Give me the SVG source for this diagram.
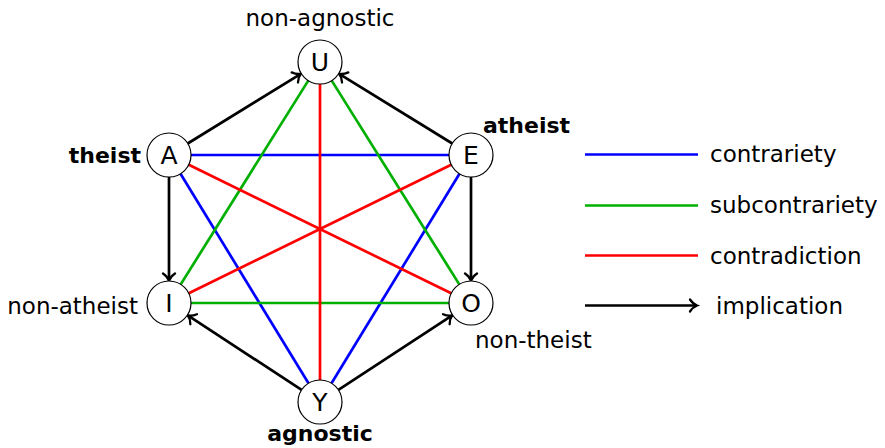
<svg xmlns="http://www.w3.org/2000/svg" width="885" height="448" viewBox="0 0 885 448">
<style>
text{font-family:"DejaVu Sans",sans-serif;font-size:23px;fill:#000}
.b{font-weight:bold;font-size:22px}
.n{text-anchor:middle}
.k{font-size:25px}
circle{fill:#fff;stroke:#000;stroke-width:1.2}
line{stroke-width:2.7;fill:none}
.blue{stroke:#0000ff}
.green{stroke:#00b000}
.red{stroke:#ff0000}
.imp{stroke:#000;marker-end:url(#tip)}
</style>
<defs>
<marker id="tip" markerUnits="userSpaceOnUse" viewBox="-9 -8 11 16" markerWidth="11" markerHeight="16" refX="0" refY="0" orient="auto" overflow="visible">
<path d="M -7 -6 C -4.5 -2.2 -1.6 -0.6 0 0 C -1.6 0.6 -4.5 2.2 -7 6" fill="none" stroke="#000" stroke-width="2.3" stroke-linecap="round"/>
</marker>
</defs>
<g id="connectors">
<line class="blue" x1="191" y1="155" x2="449" y2="155"/>
<line class="blue" x1="180.5" y1="173.8" x2="308.5" y2="383.2"/>
<line class="blue" x1="459.5" y1="173.8" x2="331.5" y2="383.2"/>
<line class="green" x1="308.3" y1="80.6" x2="180.7" y2="284.4"/>
<line class="green" x1="331.7" y1="80.6" x2="459.3" y2="284.4"/>
<line class="green" x1="191" y1="303" x2="449" y2="303"/>
<line class="red" x1="320" y1="84" x2="320" y2="380"/>
<line class="red" x1="188.8" y1="164.7" x2="451.2" y2="293.3"/>
<line class="red" x1="451.2" y1="164.7" x2="188.8" y2="293.3"/>
<line class="imp" x1="187.7" y1="143.5" x2="300.8" y2="73.8"/>
<line class="imp" x1="452.3" y1="143.5" x2="339.2" y2="73.8"/>
<line class="imp" x1="169" y1="177" x2="169" y2="280.5"/>
<line class="imp" x1="471" y1="177" x2="471" y2="280.5"/>
<line class="imp" x1="301.6" y1="389.9" x2="187.8" y2="315.4"/>
<line class="imp" x1="338.4" y1="389.9" x2="452.2" y2="315.4"/>
</g>
<g id="U"><circle cx="320" cy="62" r="22"/><text class="n k" x="320" y="71">U</text><text class="n" x="320" y="26">non-agnostic</text></g>
<g id="A"><circle cx="169" cy="155" r="22"/><text class="n k" x="169" y="164">A</text><text class="b" x="141" y="163" text-anchor="end">theist</text></g>
<g id="E"><circle cx="471" cy="155" r="22"/><text class="n k" x="471" y="164">E</text><text class="b" x="483" y="133">atheist</text></g>
<g id="I"><circle cx="169" cy="303" r="22"/><text class="n k" x="169" y="312">I</text><text x="138" y="314" text-anchor="end">non-atheist</text></g>
<g id="O"><circle cx="471" cy="303" r="22"/><text class="n k" x="471" y="312">O</text><text x="475" y="348">non-theist</text></g>
<g id="Y"><circle cx="320" cy="402" r="22"/><text class="n k" x="320" y="411">Y</text><text class="b n" x="320" y="441">agnostic</text></g>
<g id="legend">
<line class="blue" x1="585" y1="154.5" x2="698" y2="154.5"/>
<text x="710" y="162">contrariety</text>
<line class="green" x1="585" y1="205.5" x2="698" y2="205.5"/>
<text x="710" y="213">subcontrariety</text>
<line class="red" x1="585" y1="255.5" x2="698" y2="255.5"/>
<text x="710" y="264">contradiction</text>
<line class="imp" x1="585" y1="305.5" x2="697" y2="305.5"/>
<text x="716" y="314">implication</text>
</g>
</svg>
